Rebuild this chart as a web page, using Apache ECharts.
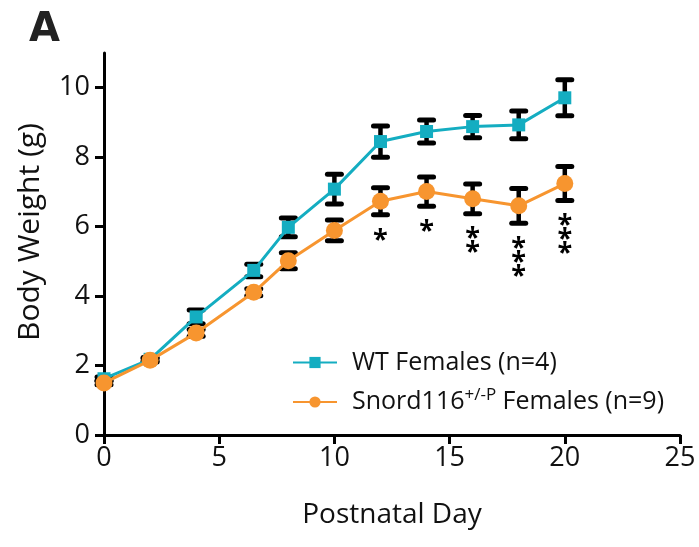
<!DOCTYPE html>
<html>
<head>
<meta charset="utf-8">
<script src="https://cdn.jsdelivr.net/npm/echarts@6/dist/echarts.min.js"></script>
<style>
  html, body { margin: 0; padding: 0; background: #fff; }
  #chart { width: 699px; height: 547px; }
</style>
</head>
<body>
<div id="chart"></div>
<script>
// postnatal days
const days = [0, 2, 4, 6.5, 8, 10, 12, 14, 16, 18, 20];
// WT females, mean and SEM
const wtMean = [1.62, 2.18, 3.40, 4.74, 5.98, 7.08, 8.45, 8.74, 8.88, 8.93, 9.71];
const wtSem = [0.05, 0.05, 0.20, 0.18, 0.27, 0.43, 0.45, 0.33, 0.32, 0.40, 0.52];
// Snord116 +/-P females, mean and SEM
const snMean = [1.50, 2.15, 2.94, 4.11, 5.02, 5.89, 6.73, 7.01, 6.80, 6.60, 7.24];
const snSem = [0.05, 0.05, 0.10, 0.10, 0.23, 0.30, 0.39, 0.42, 0.43, 0.50, 0.49];
// significance marks under the Snord116 points
const sig = ['', '', '', '', '', '', '*', '*', '**', '***', '***'];

const yTicks = [0, 2, 4, 6, 8, 10];
const xTicks = [0, 5, 10, 15, 20, 25];

const TEAL = '#14adc1';
const ORANGE = '#f7952f';
const FONT = 'Open Sans';

function errData(mean, sem, marks) {
    return days.map((d, i) => [d, mean[i], sem[i], marks ? marks[i] : '']);
}

function renderErr(params, api) {
    const x = api.value(0), m = api.value(1), s = api.value(2);
    const mark = api.value(3);
    const top = api.coord([x, m + s]);
    const bot = api.coord([x, m - s]);
    const w = 7;
    const st = { stroke: '#000', lineWidth: 5, lineCap: 'round' };
    const children = [
        { type: 'line', shape: { x1: top[0], y1: top[1], x2: bot[0], y2: bot[1] }, style: { stroke: '#000', lineWidth: 4.5 } },
        { type: 'line', shape: { x1: top[0] - w, y1: top[1], x2: top[0] + w, y2: top[1] }, style: st },
        { type: 'line', shape: { x1: bot[0] - w, y1: bot[1], x2: bot[0] + w, y2: bot[1] }, style: st }
    ];
    if (mark) {
        children.push({
            type: 'text',
            x: bot[0], y: bot[1] + 18,
            style: {
                text: String(mark).split('').join('\n'),
                fill: '#000', fontSize: 27, fontWeight: 'bold', fontFamily: FONT,
                lineHeight: 14, align: 'center', verticalAlign: 'top'
            }
        });
    }
    return { type: 'group', children: children };
}

const chart = echarts.init(document.getElementById('chart'));
chart.setOption({
    animation: false,
    title: {
        text: 'A', left: 24, top: 6,
        textStyle: { fontSize: 40, fontWeight: 'bold', color: '#222', fontFamily: 'DejaVu Sans' }
    },
    grid: { left: 104, right: 19, top: 53, bottom: 112 },
    legend: {
        data: ['WT', 'Snord'],
        orient: 'vertical',
        left: 287, top: 345,
        itemWidth: 44, itemHeight: 14, itemGap: 12,
        formatter: function (name) {
            if (name === 'WT') return '{p|WT Females (n=4)}';
            return '{p|Snord116}{sup|+/-P}{a| Females (n=9)}';
        },
        textStyle: {
            color: '#111', fontFamily: FONT, fontSize: 25,
            rich: {
                p: { fontSize: 25, fontFamily: FONT, color: '#111', lineHeight: 30, padding: [0, 0, 0, 10] },
                a: { fontSize: 25, fontFamily: FONT, color: '#111', lineHeight: 30 },
                sup: { fontSize: 17, fontFamily: FONT, color: '#111', verticalAlign: 'top', lineHeight: 17, padding: [0, 0, 8, 0] }
            }
        }
    },
    xAxis: {
        type: 'value', min: 0, max: 25, interval: 5,
        name: 'Postnatal Day', nameLocation: 'middle', nameGap: 66,
        nameTextStyle: { fontSize: 28, fontFamily: FONT, color: '#111' },
        axisLine: { lineStyle: { color: '#000', width: 3 } },
        axisTick: { show: true, length: 9, lineStyle: { color: '#000', width: 3 }, customValues: xTicks },
        axisLabel: { fontSize: 27, fontFamily: FONT, color: '#111', margin: 10, customValues: xTicks },
        splitLine: { show: false }
    },
    yAxis: {
        type: 'value', min: 0, max: 11, interval: 2,
        name: 'Body Weight (g)', nameLocation: 'middle', nameGap: 59,
        nameTextStyle: { fontSize: 30, fontFamily: FONT, color: '#111', padding: [0, 0, 0, 24] },
        axisLine: { show: true, lineStyle: { color: '#000', width: 3 } },
        axisTick: { show: true, length: 9, lineStyle: { color: '#000', width: 3 }, customValues: yTicks },
        axisLabel: { fontSize: 27, fontFamily: FONT, color: '#111', margin: 14, customValues: yTicks },
        splitLine: { show: false }
    },
    series: [
        {
            type: 'custom', name: 'wtErr', renderItem: renderErr,
            data: errData(wtMean, wtSem), encode: { x: 0, y: 1 }, z: 1, clip: false, silent: true
        },
        {
            type: 'custom', name: 'snErr', renderItem: renderErr,
            data: errData(snMean, snSem, sig), encode: { x: 0, y: 1 }, z: 1, clip: false, silent: true
        },
        {
            type: 'line', name: 'WT',
            data: days.map((d, i) => [d, wtMean[i]]),
            symbol: 'rect', symbolSize: 13,
            lineStyle: { color: TEAL, width: 3 },
            itemStyle: { color: TEAL },
            z: 3
        },
        {
            type: 'line', name: 'Snord',
            data: days.map((d, i) => [d, snMean[i]]),
            symbol: 'circle', symbolSize: 17,
            lineStyle: { color: ORANGE, width: 3 },
            itemStyle: { color: ORANGE },
            z: 4
        }
    ]
});
</script>
</body>
</html>
